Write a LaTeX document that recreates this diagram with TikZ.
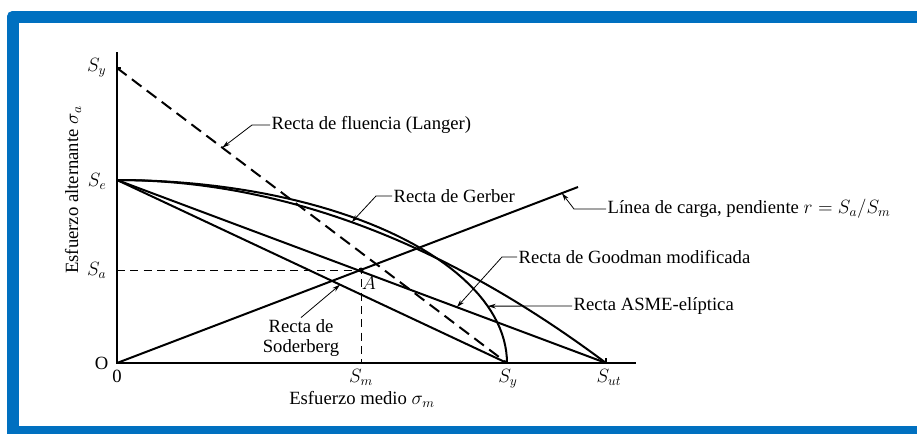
\documentclass[tikz,border=0pt]{standalone}
\usepackage{fontspec}
\setmainfont{Liberation Serif}
\usetikzlibrary{arrows.meta, positioning}

\definecolor{frameblue}{HTML}{0070C0}

\tikzset{
  curve/.style={line width=1.5pt},
  axis/.style={line width=0.8pt},
  guide/.style={dash pattern=on 6pt off 4pt, line width=0.6pt},
  leader/.style={line width=0.6pt, -{Stealth[length=6pt,width=3.5pt]}},
  lbl/.style={font=\fontsize{14}{15.5}\selectfont, inner sep=1pt},
}

\begin{document}
\begin{tikzpicture}[x=0.75pt, y=-0.75pt]
\useasboundingbox (0,0) rectangle (917,433);
% frame
\fill[frameblue, rounded corners=4pt] (7,11) rectangle (940,460);
\fill[white] (19,23) rectangle (917,426);

% axes
\coordinate (O) at (117,363);
\coordinate (SyV) at (117,68);
\coordinate (SeV) at (117,180);
\coordinate (SaV) at (117,270);
\coordinate (SmH) at (361,363);
\coordinate (SyH) at (507,363);
\coordinate (SutH) at (606,363);
\coordinate (A) at (361,270);
\coordinate (loadEnd) at (578,187);
\draw[axis] (117,52) -- (O) -- (636,363);
\draw[axis] (SyV) -- ++(4,0);
\draw[axis] (SyH) -- ++(0,-5);
\draw[axis] (SutH) -- ++(0,-5);

% criteria
\draw[curve, dash pattern=on 9pt off 5pt] (SyV) -- coordinate[pos=0.27] (langerTip) (SyH);
\draw[curve] (SeV) -- coordinate[pos=0.695] (goodTip) (SutH);
\draw[curve] (SeV) -- coordinate[pos=0.572] (soderTip) (SyH);
\draw[curve] (O) -- coordinate[pos=0.965] (loadTip) (loadEnd);
\draw[curve] plot[domain=0:1, samples=50] ({117+489*\x}, {363-183*(1-\x*\x)});
\draw[curve] plot[domain=0:90, samples=50] ({117+390*cos(\x)}, {363-183*sin(\x)});
\coordinate (gerberTip) at ({117+489*0.48}, {363-183*(1-0.48*0.48)});
\coordinate (asmeTip) at ({117+390*cos(18.1)}, {363-183*sin(18.1)});
\draw[guide] (SaV) -- (A) -- (SmH);
\fill (A) circle (2.5);

% axis labels
\node[lbl, anchor=east] (SyVl) at (108,68) {$S_y$};
\node[lbl, anchor=east] (SeVl) at (108,181) {$S_e$};
\node[lbl, anchor=east] (SaVl) at (108,270) {$S_a$};
\node[lbl, anchor=east] (Ol) at (110,363) {O};
\node[lbl, anchor=north] (zero) at (117,368) {0};
\node[lbl, anchor=north] (SmHl) at (361,368) {$S_m$};
\node[lbl, anchor=north] (SyHl) at (508,368) {$S_y$};
\node[lbl, anchor=north] (SutHl) at (609,368) {$S_{ut}$};
\node[lbl] (Al) at (369,283) {$A$};
\node[lbl] (xlab) at (362,399) {Esfuerzo medio $\sigma_m$};
\node[lbl, rotate=90] (ylab) at (73,190) {Esfuerzo alternante $\sigma_a$};

% curve labels
\node[lbl, anchor=west] (langer) at (270,125) {Recta de fluencia (Langer)};
\node[lbl, anchor=west] (gerber) at (392,196) {Recta de Gerber};
\node[lbl, anchor=west] (carga) at (606,209) {Línea de carga, pendiente $r = S_a/S_m$};
\node[lbl, anchor=west] (goodman) at (517,257) {Recta de Goodman modificada};
\node[lbl, anchor=west] (asme) at (572,306) {Recta ASME-elíptica};
\node[lbl, align=center] (soder) at (301,338) {Recta de\\Soderberg};

\draw[leader] (langer.west) -- ++(-18,0) -- (langerTip);
\draw[leader] (gerber.west) -- ++(-16,0) -- (gerberTip);
\draw[leader] (carga.west) -- ++(-32,0) -- (loadTip);
\draw[leader] (goodman.west) -- ++(-15,0) -- (goodTip);
\draw[leader] (asme.west) -- (asmeTip);
\draw[leader] (soder.north) -- (soderTip);
\end{tikzpicture}
\end{document}
